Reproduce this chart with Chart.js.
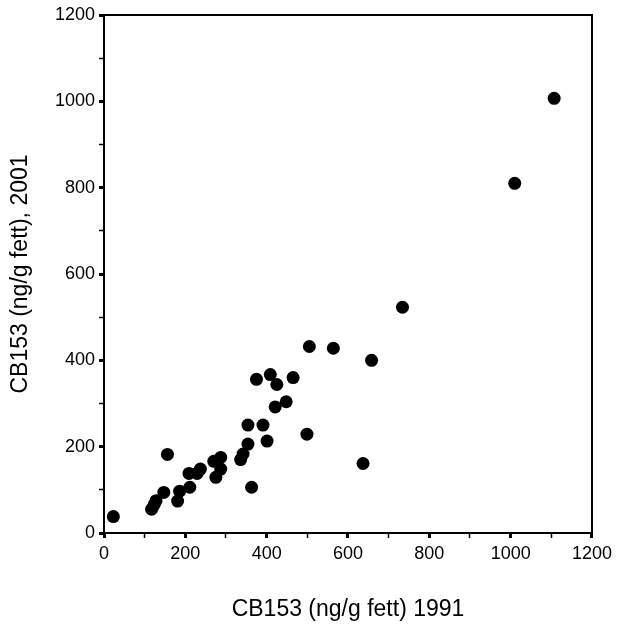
<!DOCTYPE html>
<html>
<head>
<meta charset="utf-8">
<script src="https://cdn.jsdelivr.net/npm/chart.js@4.4.1/dist/chart.umd.min.js"></script>
<style>
    html, body { margin: 0; padding: 0; background: #fff; }
    #wrap { width: 617px; height: 630px; position: relative; }
</style>
</head>
<body>
<div id="wrap"><canvas id="scatterChart"></canvas></div>
<script>
// CB153 values, 1991 (x) against 2001 (y)
const cb1991 = [23, 117, 123, 128, 147, 156, 181, 186, 211, 209, 229, 237, 275, 270, 287, 287,
    336, 342, 354, 354, 363, 375, 391, 401, 409, 425, 421, 448, 465, 499, 505, 564,
    637, 658, 734, 1010, 1107];
const cb2001 = [38, 55, 65, 75, 94, 182, 74, 97, 106, 138, 138, 148, 129, 166, 175, 148,
    170, 183, 206, 250, 106, 356, 250, 213, 367, 344, 292, 304, 360, 229, 432, 428,
    161, 400, 523, 810, 1007];
const axisLabels = ['0', '200', '400', '600', '800', '1000', '1200'];

const FONT = "'Liberation Sans', Arial, sans-serif";

// frame round the plot area (top and right edges)
const framePlugin = {
    id: 'frame',
    afterDatasetsDraw(chart) {
        const { ctx, chartArea: a } = chart;
        ctx.save();
        ctx.strokeStyle = '#000';
        ctx.lineWidth = 2;
        ctx.strokeRect(a.left, a.top, a.right - a.left, a.bottom - a.top);
        ctx.restore();
    }
};

function tickLabel(value) {
    const s = String(value);
    return axisLabels.includes(s) ? s : '';
}

function isMajor(ctx) {
    return ctx.tick && ctx.tick.value % 200 === 0;
}

const ctx = document.getElementById('scatterChart').getContext('2d');
new Chart(ctx, {
    type: 'scatter',
    data: {
        datasets: [{
            data: cb1991.map((x, i) => ({ x: x, y: cb2001[i] })),
            backgroundColor: '#000',
            borderColor: '#000',
            borderWidth: 0,
            pointRadius: 6.5,
            pointHoverRadius: 6.5
        }]
    },
    options: {
        responsive: true,
        maintainAspectRatio: false,
        animation: false,
        layout: { padding: { top: 15, right: 24, left: 0, bottom: 0 } },
        plugins: {
            legend: { display: false },
            tooltip: { enabled: false }
        },
        scales: {
            x: {
                type: 'linear',
                min: 0,
                max: 1200,
                ticks: {
                    stepSize: 100,
                    autoSkip: false,
                    maxRotation: 0,
                    padding: 5,
                    color: '#000',
                    font: { family: FONT, size: 18 },
                    callback: tickLabel
                },
                grid: {
                    drawOnChartArea: false,
                    drawTicks: true,
                    tickLength: 5,
                    tickColor: '#000',
                    tickWidth: c => isMajor(c) ? 3 : 1.5
                },
                border: { display: true, color: '#000', width: 2 },
                title: {
                    display: true,
                    text: 'CB153 (ng/g fett) 1991',
                    color: '#000',
                    font: { family: FONT, size: 23 },
                    padding: { top: 0, bottom: 7 }
                },
                afterFit(scale) { scale.height = 97; }
            },
            y: {
                type: 'linear',
                min: 0,
                max: 1200,
                ticks: {
                    stepSize: 100,
                    autoSkip: false,
                    padding: 4,
                    color: '#000',
                    font: { family: FONT, size: 18 },
                    callback: tickLabel
                },
                grid: {
                    drawOnChartArea: false,
                    drawTicks: true,
                    tickLength: 5,
                    tickColor: '#000',
                    tickWidth: c => isMajor(c) ? 3 : 1.5
                },
                border: { display: true, color: '#000', width: 2 },
                title: {
                    display: true,
                    text: 'CB153 (ng/g fett), 2001',
                    color: '#000',
                    font: { family: FONT, size: 23 },
                    padding: { top: 7, bottom: 0 }
                },
                afterFit(scale) { scale.width = 104; }
            }
        }
    },
    plugins: [framePlugin]
});
</script>
</body>
</html>
